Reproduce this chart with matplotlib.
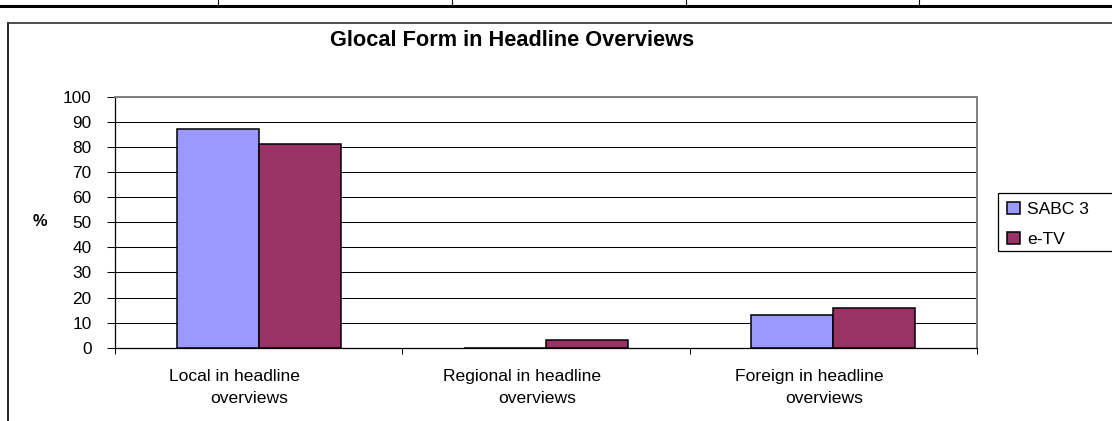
import matplotlib
matplotlib.use('Agg')
import matplotlib.pyplot as plt
import matplotlib.transforms as mtransforms
from matplotlib.patches import Rectangle, Patch
from matplotlib.lines import Line2D
import numpy as np

plt.rcParams['font.family'] = ['Liberation Sans', 'DejaVu Sans']

# ---- data ----
categories = ["Local in headline overviews",
              "Regional in headline overviews",
              "Foreign in headline overviews"]
label_line1 = ["Local in headline", "Regional in headline", "Foreign in headline"]
label_line2 = ["overviews", "overviews", "overviews"]
series_names = ["SABC 3", "e-TV"]
sabc3 = [87, 0, 13]
etv = [81, 3, 16]
yticks = [0, 10, 20, 30, 40, 50, 60, 70, 80, 90, 100]
title = "Glocal Form in Headline Overviews"
ylabel = "%"

# ---- figure ----
W, H = 1112, 421
fig = plt.figure(figsize=(W / 100, H / 100), dpi=100)


def fx(px):
    return px / W


def fy(py):
    return 1 - py / H


ax_left, ax_right, ax_top, ax_bottom = 115, 977, 96.7, 347.7
ax = fig.add_axes([fx(ax_left), fy(ax_bottom),
                   (ax_right - ax_left) / W, (ax_bottom - ax_top) / H])

x = np.arange(len(categories))
w = 0.2857
col_sabc = '#9999FF'
col_etv = '#993366'
ax.bar(x - w / 2, sabc3, w, color=col_sabc, edgecolor='black', linewidth=1.1, zorder=3)
ax.bar(x + w / 2, etv, w, color=col_etv, edgecolor='black', linewidth=1.1, zorder=3)

ax.set_xlim(-0.5, len(categories) - 0.5)
ax.set_ylim(0, 100)
ax.set_yticks(yticks)
ax.set_yticklabels([str(v) for v in yticks])
ax.yaxis.grid(True, color='black', linewidth=0.75)
ax.set_axisbelow(True)

ax.set_xticks(np.arange(len(categories) + 1) - 0.5)
ax.set_xticklabels([])
ax.tick_params(axis='x', direction='out', length=4, width=0.75, color='black')
ax.tick_params(axis='y', direction='out', length=5.8, width=0.75, pad=11,
               labelsize=12.4, color='black')

for s in ['top', 'right']:
    ax.spines[s].set_color('#808080')
    ax.spines[s].set_linewidth(1.4)
for s in ['left', 'bottom']:
    ax.spines[s].set_color('black')
    ax.spines[s].set_linewidth(0.9)

# category labels (two lines, Excel-like wrapping offsets)
xt = ax.get_xaxis_transform()
off1 = mtransforms.ScaledTranslation(-24 / 100, 0, fig.dpi_scale_trans)
off2 = mtransforms.ScaledTranslation(-9 / 100, 0, fig.dpi_scale_trans)
ah = ax_bottom - ax_top
for i in range(len(categories)):
    ax.text(x[i], -(381 - ax_bottom) / ah, label_line1[i], transform=xt + off1,
            ha='center', va='baseline', fontsize=12.6)
    ax.text(x[i], -(403.3 - ax_bottom) / ah, label_line2[i], transform=xt + off2,
            ha='center', va='baseline', fontsize=12.6)

# y label
fig.text(fx(40), fy(222), ylabel, ha='center', va='center', fontsize=11.8,
         fontweight='bold')

# title
fig.text(fx(512.5), fy(46), title, ha='center', va='baseline', fontsize=15.7,
         fontweight='bold')

# legend
handles = [Patch(facecolor=col_sabc, edgecolor='black', linewidth=1.1),
           Patch(facecolor=col_etv, edgecolor='black', linewidth=1.1)]
fig.legend(handles, series_names, loc='upper left',
           bbox_to_anchor=(fx(1007), fy(202)), frameon=False, fontsize=12.6,
           handlelength=0.74, handleheight=0.69, handletextpad=0.4,
           labelspacing=0.84, borderpad=0, borderaxespad=0)
fig.patches.append(Rectangle((fx(997.7), fy(251)), fx(1120) - fx(997.7),
                             (251 - 193) / H, transform=fig.transFigure,
                             fill=False, edgecolor='black', linewidth=0.9))

# chart frame and page table lines
fig.lines.append(Line2D([fx(8), fx(8)], [0, fy(22.5)], transform=fig.transFigure,
                        color='black', linewidth=1.2))
fig.lines.append(Line2D([fx(8), 1], [fy(22.5), fy(22.5)], transform=fig.transFigure,
                        color='#303030', linewidth=1.2))
fig.lines.append(Line2D([0, 1], [fy(6), fy(6)], transform=fig.transFigure,
                        color='black', linewidth=2.2))
for sx in [218, 452, 686, 919]:
    fig.lines.append(Line2D([fx(sx), fx(sx)], [fy(6), 1], transform=fig.transFigure,
                            color='black', linewidth=0.8))

fig.savefig('out.png', dpi=100)
